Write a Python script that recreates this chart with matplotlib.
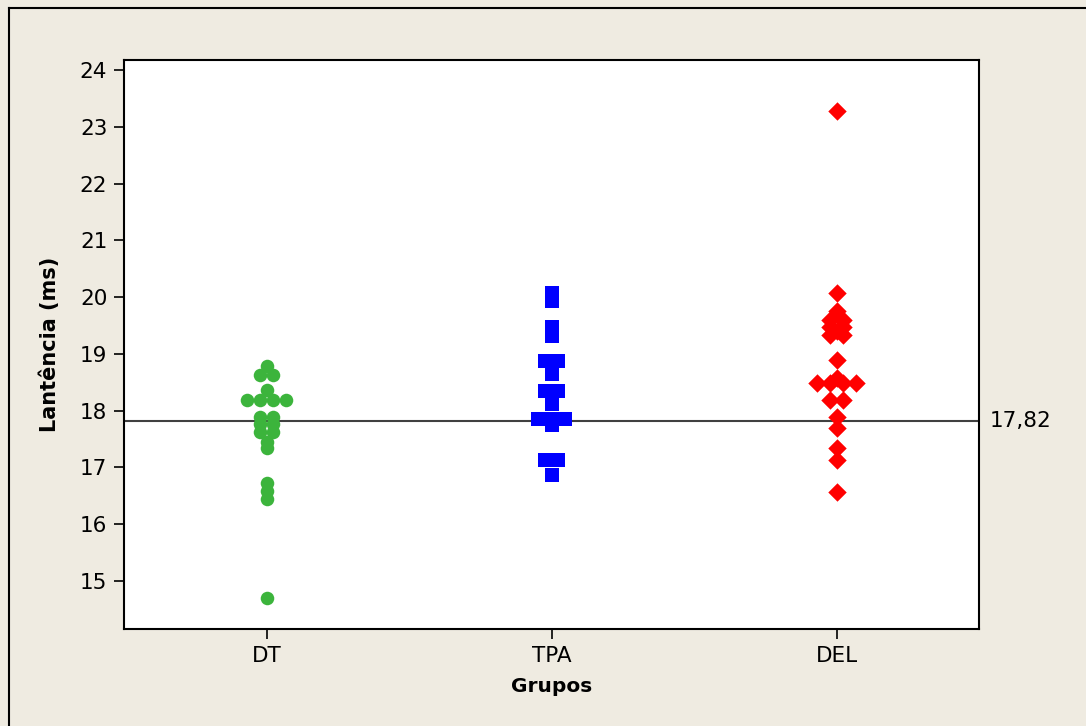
import numpy as np
import matplotlib.pyplot as plt
from matplotlib.lines import Line2D

# -----------------------------
# Data
# -----------------------------
groups = ['DT', 'TPA', 'DEL']

dt_values = [18.79, 18.63, 18.63, 18.36, 18.18, 18.18, 18.18, 18.18,
             17.89, 17.89, 17.76, 17.76, 17.63, 17.63, 17.45, 17.34,
             16.73, 16.59, 16.45, 14.70]
tpa_values = [20.08, 19.94, 19.48, 19.32, 18.88, 18.88, 18.65, 18.34, 18.34,
              18.12, 17.86, 17.86, 17.86, 17.74, 17.14, 17.14, 16.86]
del_values = [23.27, 20.08, 19.76, 19.60, 19.60, 19.47, 19.47, 19.40, 19.34, 19.34,
              18.89, 18.57, 18.48, 18.48, 18.48, 18.48, 18.18, 18.18,
              17.89, 17.70, 17.34, 17.13, 16.57]

mean_value = 17.82
mean_label = '17,82'

y_ticks = [15, 16, 17, 18, 19, 20, 21, 22, 23, 24]

# -----------------------------
# Styling
# -----------------------------
bg = '#efebe1'
styles = [
    dict(marker='o', color='#3cb43c', s=95),
    dict(marker='s', color='#0000ff', s=95),
    dict(marker='D', color='#ff0000', s=88),
]
spacing = 0.046  # horizontal gap between points that share the same value


def dodge(values):
    # Minitab-like stacking: equal values are placed side by side
    values = np.asarray(values)
    offsets = np.zeros(len(values))
    for v in np.unique(values):
        idx = np.where(values == v)[0]
        n = len(idx)
        offsets[idx] = (np.arange(n) - (n - 1) / 2) * spacing
    return offsets


fig = plt.figure(figsize=(10.86, 7.26), dpi=100, facecolor=bg)
ax = fig.add_axes([124 / 1086, 1 - 629 / 726, (979 - 124) / 1086, (629 - 60) / 726])

# outer frame: only the left and top edges are inside the picture
left = 8.5 / 1086
top = 1 - 7.5 / 726
fig.lines.append(Line2D([left, left], [0, top], transform=fig.transFigure, color='black', linewidth=1.5))
fig.lines.append(Line2D([left, 1], [top, top], transform=fig.transFigure, color='black', linewidth=1.5))

ax.axhline(mean_value, color='#404040', linewidth=1.5, zorder=1)

for i, vals in enumerate([dt_values, tpa_values, del_values]):
    x = i + 1 + dodge(vals)
    ax.scatter(x, vals, linewidths=0, zorder=3, **styles[i])

ax.set_xlim(0.5, 3.5)
ax.set_ylim(14.155, 24.176)
ax.set_xticks([1, 2, 3])
ax.set_xticklabels(groups)
ax.set_yticks(y_ticks)

ax.tick_params(axis='both', direction='out', length=7, width=1.2, labelsize=15.5, pad=5)
for sp in ax.spines.values():
    sp.set_linewidth(1.5)

ax.set_xlabel('Grupos', fontsize=14.5, fontweight='bold', labelpad=8)
ax.set_ylabel('Lantência (ms)', fontsize=15, fontweight='bold', labelpad=14)

ax.text(1.012, mean_value, mean_label, transform=ax.get_yaxis_transform(),
        fontsize=15.5, va='center', ha='left')

fig.savefig('out.png', dpi=100, facecolor=bg)
